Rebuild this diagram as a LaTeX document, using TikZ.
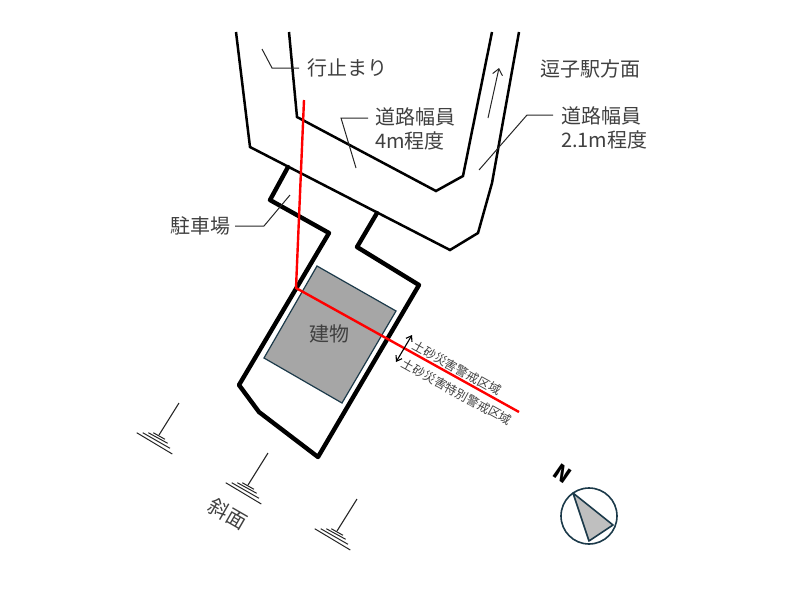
\documentclass[tikz,border=0pt]{standalone}
\usepackage{fontspec}
\setmainfont{Noto Sans CJK JP}
\usetikzlibrary{arrows.meta}
\definecolor{labelgray}{HTML}{404040}
\definecolor{edgeblue}{HTML}{1C3A4A}
\tikzset{
  roadline/.style={line width=2.5pt, line join=miter, black},
  lotline/.style={line width=4.4pt, line join=round, line cap=round, black},
  redline/.style={line width=2.4pt, red, line join=miter},
  leader/.style={line width=1pt, black!85},
  labeltext/.style={text=labelgray, font=\fontsize{20}{24.5}\selectfont, align=left, inner sep=0pt},
  zonetext/.style={text=labelgray, font=\fontsize{12.3}{14}\selectfont, inner sep=0pt, rotate=-29},
  slopemark/.pic={
    \draw[line width=1.1pt, black!85] (0,0) -- (-20,32);
    \draw[line width=1pt, black!85] (-25.7,29.7) -- (-14,36.3);
    \draw[line width=1pt, black!85] (-30.7,29.7) -- (-11.3,40.3);
    \draw[line width=1pt, black!85] (-36.3,29.7) -- (-9,45.3);
    \draw[line width=1pt, black!85] (-42.3,29.7) -- (-6.7,51);
  }
}
\begin{document}
\begin{tikzpicture}[x=1pt, y=-1pt]
\useasboundingbox (0,0) rectangle (800,600);

% road
\draw[roadline] (236,32) -- (250,147) -- (450,250) -- (478,233) -- (492,183) -- (519,32);
\draw[roadline] (289,32) -- (297,117) -- (436,191) -- (463,176) -- (492,32);

% lot and building
\draw[fill=black!35, draw=edgeblue, line width=1.2pt] (317,266) -- (396,311) -- (342,403) -- (264,358) -- cycle;
\draw[lotline] (288,167) -- (270,200) -- (329,233) -- (239,385) -- (259,412) -- (318,457) -- (419,285) -- (357,247) -- (377,213);
\draw[redline] (304,100) -- (296,288) -- (519,412);

% leaders
\draw[leader] (262,49) -- (272,68) -- (299,68);
\draw[leader] (356,168) -- (341,118) -- (368,118);
\draw[leader] (479,170) -- (527,115) -- (553,115);
\draw[leader] (290,195) -- (264,226) -- (235,226);
\draw[leader, -{Straight Barb[length=6pt,width=10pt]}] (488,118) -- (499,68);
\draw[line width=1.1pt, black, {Straight Barb[length=5pt,width=7pt]}-{Straight Barb[length=5pt,width=7pt]}] (396,362) -- (412,335);

% labels
\node[labeltext, anchor=west] (deadend) at (307,68) {行止まり};
\node[labeltext, anchor=west] (widthfour) at (375,129) {道路幅員\\4m程度};
\node[labeltext, anchor=west] (station) at (540,69) {逗子駅方面};
\node[labeltext, anchor=west] (widthtwo) at (561,128) {道路幅員\\2.1m程度};
\node[labeltext, anchor=west] (parking) at (170,226) {駐車場};
\node[labeltext, anchor=center] (building) at (329,334) {建物};
\node[labeltext, anchor=center, rotate=-30] (slope) at (228,514) {斜面};
\node[zonetext] (zoneone) at (457,368) {土砂災害警戒区域};
\node[zonetext] (zonetwo) at (457,392) {土砂災害特別警戒区域};

% slope marks
\foreach \sx/\sy in {179/403, 268/453, 357/499}
  \pic at (\sx,\sy) {slopemark};

% north mark
\node[rotate=-35, font=\fontsize{21}{22}\selectfont\bfseries, inner sep=0pt] (north) at (563,474) {N};
\draw[edgeblue, line width=1.6pt] (589,516) circle (28);
\draw[edgeblue, line width=1.6pt, fill=black!25, line join=round] (573,493) -- (613,525) -- (589,541) -- cycle;

\end{tikzpicture}
\end{document}
